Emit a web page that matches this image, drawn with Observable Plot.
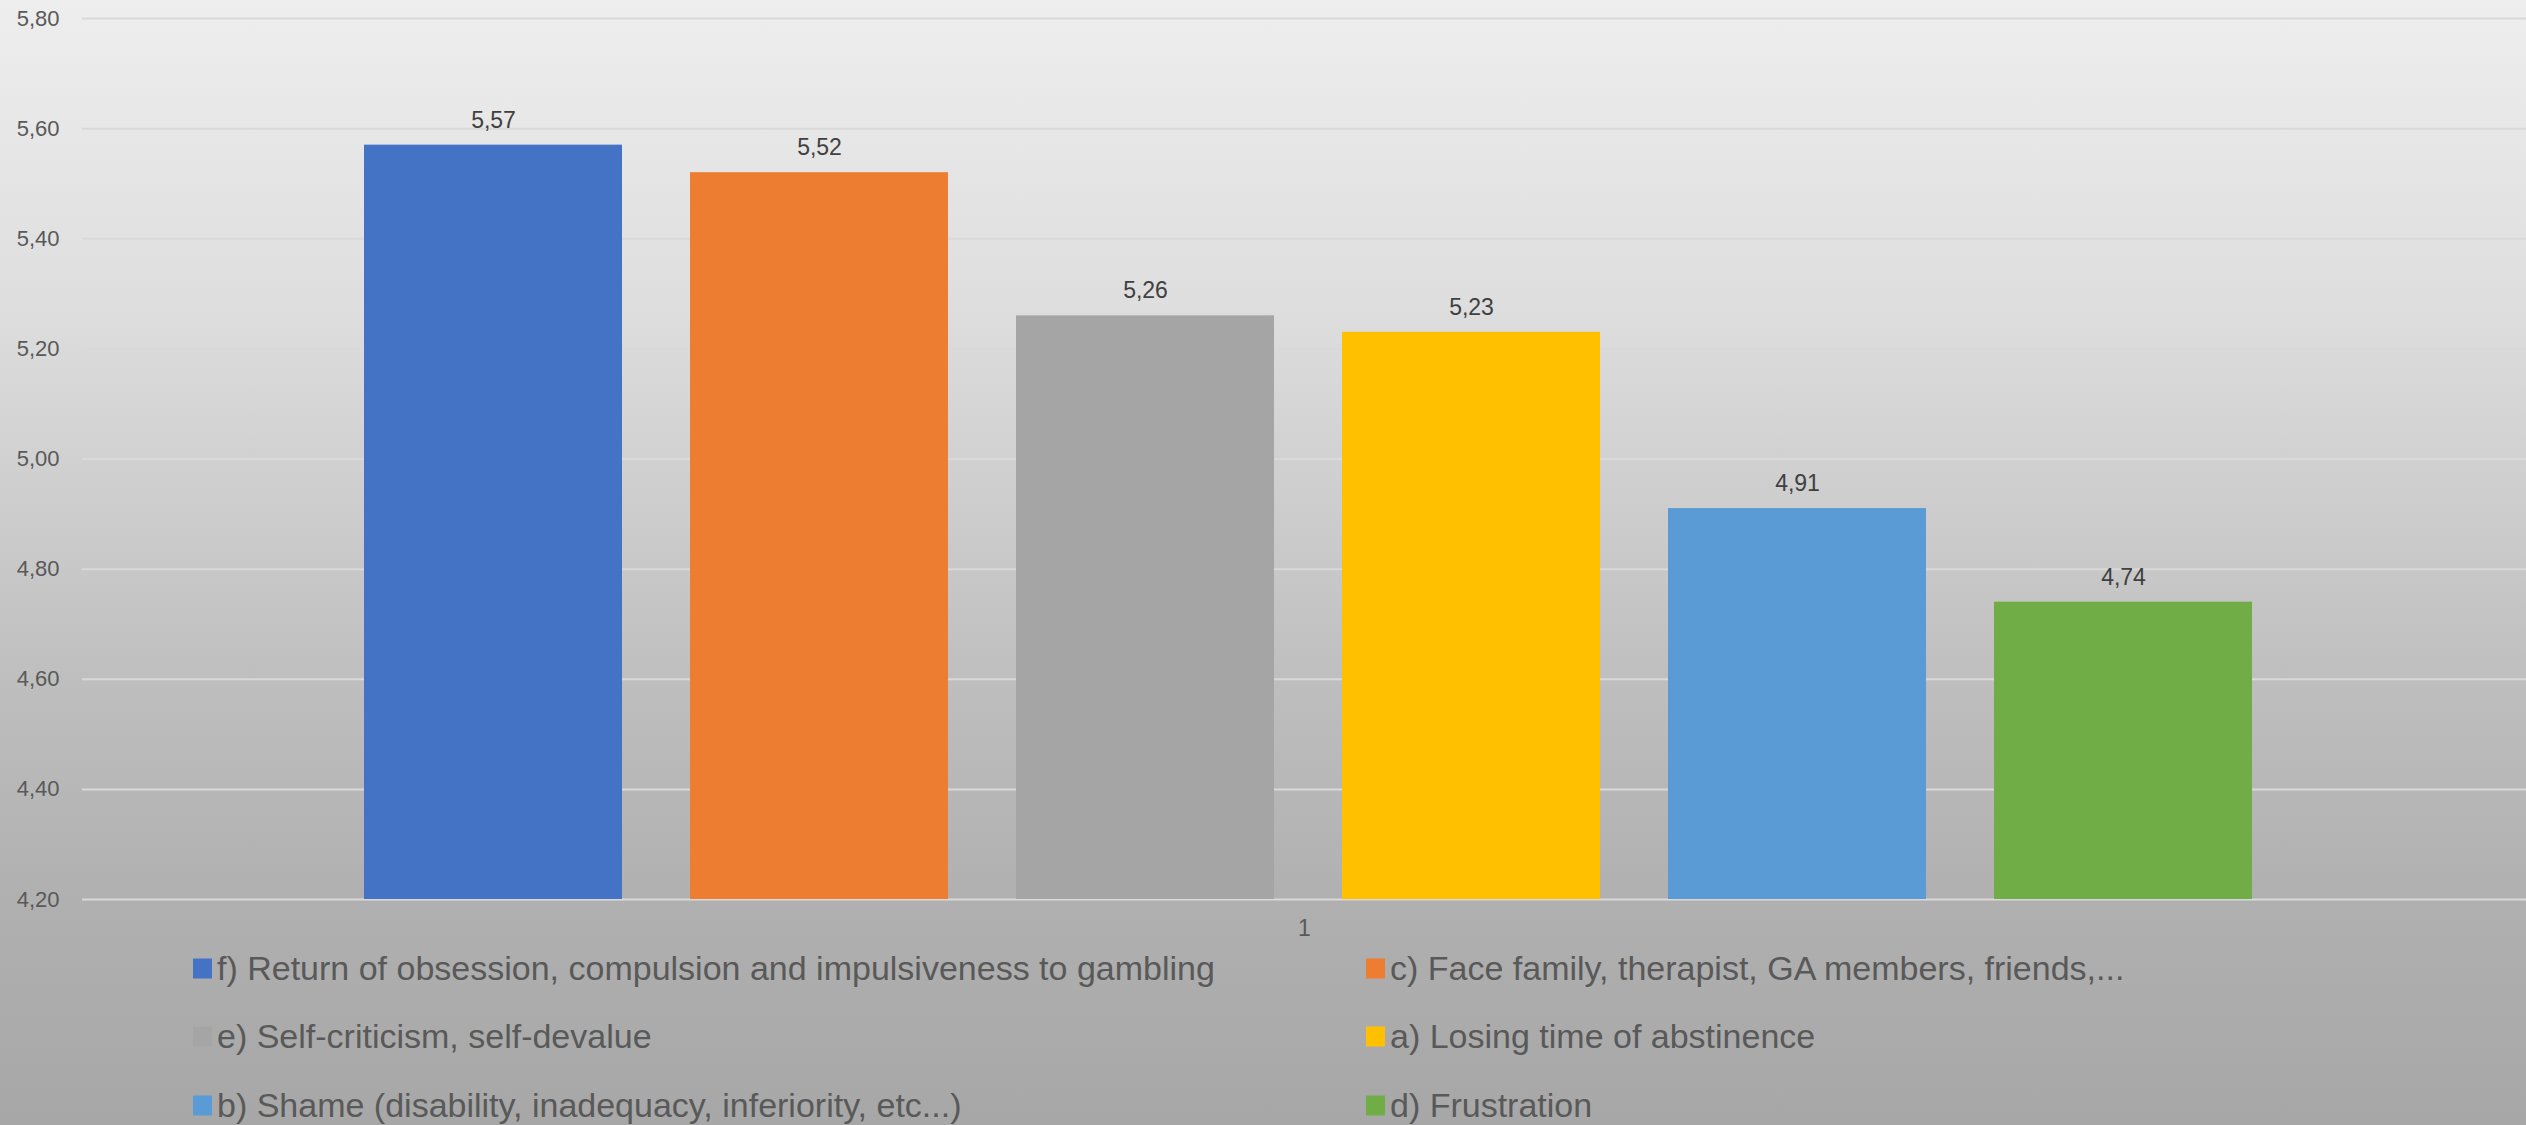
<!DOCTYPE html>
<html><head><meta charset="utf-8">
<script src="https://cdn.jsdelivr.net/npm/d3@7"></script>
<script src="https://cdn.jsdelivr.net/npm/@observablehq/plot@0.6"></script>
<style>
html,body{margin:0;padding:0;width:2526px;height:1125px;overflow:hidden;}
body{background:linear-gradient(to bottom,#eeeeee 0%,#dedede 27%,#bdbdbd 62%,#b0b0b0 80%,#a7a7a7 100%);
font-family:"Liberation Sans Narrow","Arial Narrow","Liberation Sans",sans-serif;}
#legend{position:relative;height:180px;}
.item{position:absolute;display:flex;align-items:center;font-size:34px;color:#595959;white-space:nowrap;transform:translateY(-50%);}
.sw{width:19px;height:20px;margin-right:5px;flex:none;}
</style></head><body>
<div id="chart"></div><div id="legend"></div>
<script>
const series = [
  "f) Return of obsession, compulsion and impulsiveness to gambling",
  "c) Face family, therapist, GA members, friends,...",
  "e) Self-criticism, self-devalue",
  "a) Losing time of abstinence",
  "b) Shame (disability, inadequacy, inferiority, etc...)",
  "d) Frustration"
];
const values = [5.57, 5.52, 5.26, 5.23, 4.91, 4.74];
const colors = ["#4472C4", "#ED7D31", "#A5A5A5", "#FFC000", "#5B9BD5", "#70AD47"];
const groups = ["1"];
const yTicks = [4.2, 4.4, 4.6, 4.8, 5.0, 5.2, 5.4, 5.6, 5.8];

const data = series.map((s, i) => ({series: s, value: values[i], group: groups[0]}));
const fmt = v => d3.format(".2f")(v).replace(".", ",");
const FONT = '"Liberation Sans Narrow","Arial Narrow","Liberation Sans",sans-serif';

const chart = Plot.plot({
  width: 2526, height: 945,
  marginLeft: 82, marginRight: 0, marginTop: 18, marginBottom: 46,
  style: {background: "transparent", fontFamily: FONT, fontSize: "23px", color: "#595959"},
  fx: {domain: groups, padding: 0, label: null},
  x: {domain: series, axis: null, paddingInner: 0.21, paddingOuter: 0.105, insetLeft: 248, insetRight: 240},
  y: {domain: [yTicks[0], yTicks[yTicks.length - 1]]},
  color: {domain: series, range: colors},
  marks: [
    Plot.ruleY(yTicks, {stroke: "#d9d9d9", strokeWidth: 2}),
    Plot.barY(data, {fx: "group", x: "series", y1: yTicks[0], y2: "value", fill: "series"}),
    Plot.text(data, {fx: "group", x: "series", y: "value", text: d => fmt(d.value), dy: -25, fontSize: 23, fill: "#404040"}),
    Plot.axisY({ticks: yTicks, tickFormat: fmt, tickSize: 0, tickPadding: 23, fontSize: 22, fill: "#595959", label: null}),
    Plot.axisFx({anchor: "bottom", tickSize: 0, tickPadding: 20, fontSize: 23, fill: "#595959", label: null})
  ]
});
document.getElementById("chart").appendChild(chart);

const legend = document.getElementById("legend");
const colX = [193, 1366];
const rowY = [23, 91, 160];
series.forEach((s, i) => {
  const it = document.createElement("div");
  it.className = "item";
  it.style.left = colX[i % 2] + "px";
  it.style.top = rowY[Math.floor(i / 2)] + "px";
  const sw = document.createElement("span");
  sw.className = "sw";
  sw.style.background = colors[i];
  const tx = document.createElement("span");
  tx.textContent = s;
  it.appendChild(sw); it.appendChild(tx);
  legend.appendChild(it);
});
</script>
</body></html>
